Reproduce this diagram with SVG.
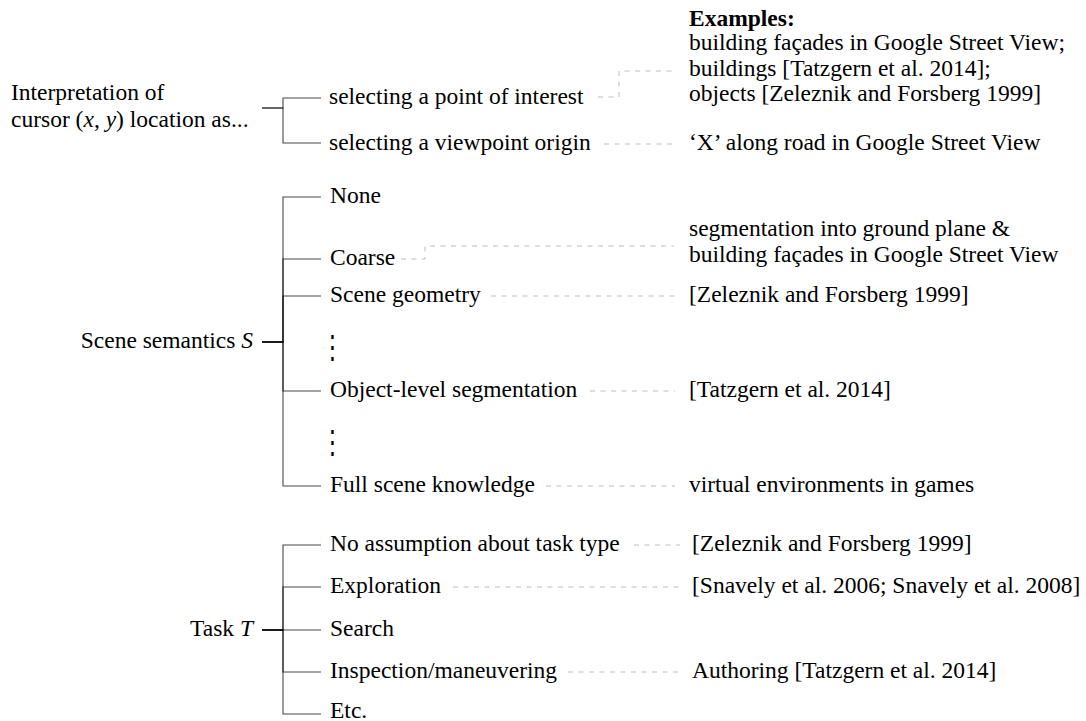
<svg xmlns="http://www.w3.org/2000/svg" width="1086" height="721" viewBox="0 0 1086 721">
<style>
text{font-family:"Liberation Serif","Times New Roman",serif;font-size:23.5px;fill:#000}
.b{font-weight:bold}
.i{font-style:italic}
.e{text-anchor:end}
.vd{font-family:"DejaVu Serif","Liberation Serif",serif;font-size:23px;text-anchor:middle}
.tree{fill:none;stroke:#000;stroke-opacity:0.72;stroke-width:1.1}
.dash{fill:none;stroke:#bdbdbd;stroke-width:1;stroke-dasharray:5 5.5}
</style>
<rect width="1086" height="721" fill="#fff"/>
<g id="connectors">
<g id="tree-lines">
<path class="tree" d="M262 108H283V98H321"/>
<path class="tree" d="M262 108H283V143H321"/>
<path class="tree" d="M262 342H283V197H321"/>
<path class="tree" d="M262 342H283V259H321"/>
<path class="tree" d="M262 342H283V296H321"/>
<path class="tree" d="M262 342H283V391H321"/>
<path class="tree" d="M262 342H283V486H321"/>
<path class="tree" d="M262 630H283V545H321"/>
<path class="tree" d="M262 630H283V587H321"/>
<path class="tree" d="M262 630H283V630H321"/>
<path class="tree" d="M262 630H283V672H321"/>
<path class="tree" d="M262 630H283V714H321"/>
</g>
<g id="example-links">
<path class="dash" d="M598 97H619V71H675"/>
<path class="dash" d="M604 144H675"/>
<path class="dash" d="M401 259H425V246H674"/>
<path class="dash" d="M491 296H675"/>
<path class="dash" d="M590 391H675"/>
<path class="dash" d="M546 486H675"/>
<path class="dash" d="M634 545H680"/>
<path class="dash" d="M453 587H680"/>
<path class="dash" d="M568 672H680"/>
</g>
</g>
<g id="root-interpretation">
<text x="11" y="100">Interpretation of</text>
<text x="11" y="127">cursor (<tspan class="i">x</tspan>, <tspan class="i">y</tspan>) location as...</text>
</g>
<g id="node-point-of-interest"><text x="329" y="104">selecting a point of interest</text></g>
<g id="node-viewpoint-origin"><text x="329" y="150">selecting a viewpoint origin</text></g>
<g id="examples-top">
<text x="689" y="26" class="b">Examples:</text>
<text x="689" y="50">building façades in Google Street View;</text>
<text x="689" y="76">buildings [Tatzgern et al. 2014];</text>
<text x="689" y="101">objects [Zeleznik and Forsberg 1999]</text>
</g>
<g id="example-viewpoint"><text x="689" y="150">‘X’ along road in Google Street View</text></g>
<g id="root-scene"><text x="253" y="348" class="e">Scene semantics <tspan class="i">S</tspan></text></g>
<g id="node-none"><text x="330" y="203">None</text></g>
<g id="node-coarse"><text x="330" y="265">Coarse</text></g>
<g id="node-scene-geometry"><text x="330" y="302">Scene geometry</text></g>
<g id="dots-1"><text class="vd" transform="translate(333 358) scale(1 1.4)">⋮</text></g>
<g id="node-object-level"><text x="330" y="397">Object-level segmentation</text></g>
<g id="dots-2"><text class="vd" transform="translate(333 453) scale(1 1.4)">⋮</text></g>
<g id="node-full-scene"><text x="330" y="492">Full scene knowledge</text></g>
<g id="example-coarse">
<text x="689" y="236">segmentation into ground plane &amp;</text>
<text x="689" y="262">building façades in Google Street View</text>
</g>
<g id="example-geometry"><text x="689" y="302">[Zeleznik and Forsberg 1999]</text></g>
<g id="example-object"><text x="689" y="397">[Tatzgern et al. 2014]</text></g>
<g id="example-full"><text x="689" y="492">virtual environments in games</text></g>
<g id="root-task"><text x="253" y="636" class="e">Task <tspan class="i">T</tspan></text></g>
<g id="node-no-assumption"><text x="330" y="551">No assumption about task type</text></g>
<g id="node-exploration"><text x="330" y="593">Exploration</text></g>
<g id="node-search"><text x="330" y="636">Search</text></g>
<g id="node-inspection"><text x="330" y="678">Inspection/maneuvering</text></g>
<g id="node-etc"><text x="330" y="718">Etc.</text></g>
<g id="example-no-assumption"><text x="692" y="551">[Zeleznik and Forsberg 1999]</text></g>
<g id="example-exploration"><text x="692" y="593">[Snavely et al. 2006; Snavely et al. 2008]</text></g>
<g id="example-inspection"><text x="692" y="678">Authoring [Tatzgern et al. 2014]</text></g>
</svg>
